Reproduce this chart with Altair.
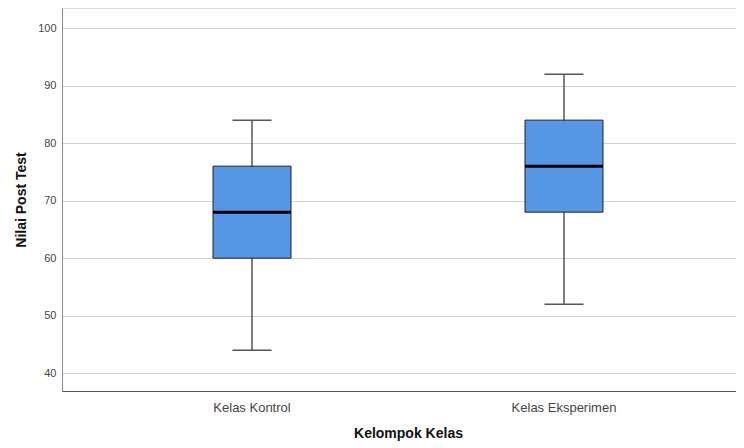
import altair as alt
import pandas as pd

groups = ["Kelas Kontrol", "Kelas Eksperimen"]
mins = [44, 52]
q1s = [60, 68]
medians = [68, 76]
q3s = [76, 84]
maxs = [84, 92]

df = pd.DataFrame({"group": groups, "min": mins, "q1": q1s, "median": medians,
                   "q3": q3s, "max": maxs})

FONT = "Liberation Sans"

x = alt.X("group:N", sort=groups, title="Kelompok Kelas",
          scale=alt.Scale(range=[0, 692], paddingInner=0.75, paddingOuter=0.484),
          axis=alt.Axis(labelAngle=0, ticks=False, domainColor="#555555",
                        labelColor="#444444", labelFontSize=13, labelFont=FONT,
                        labelPadding=10, titleFont=FONT, titleFontSize=14,
                        titleFontWeight="bold", titleColor="#111111", titlePadding=12,
                        grid=False))
yscale = alt.Scale(domain=[36.9, 103.5], nice=False, zero=False)
yaxis = alt.Axis(values=[40, 50, 60, 70, 80, 90, 100], ticks=False, domainColor="#888888",
                 gridColor="#d0d0d0", gridWidth=1, labelColor="#444444", labelFontSize=11,
                 labelFont=FONT, labelPadding=6, titleFont=FONT, titleFontSize=14,
                 titleFontWeight="bold", titleColor="#111111", titlePadding=9)

base = alt.Chart(df)

whisker = base.mark_rule(color="#555555", strokeWidth=1.5, opacity=1).encode(
    x=x, y=alt.Y("min:Q", scale=yscale, axis=yaxis, title="Nilai Post Test"), y2="max:Q")
box = base.mark_bar(color="#5596E5", stroke="#222222", strokeWidth=1, opacity=1).encode(
    x=x, y=alt.Y("q1:Q", scale=yscale), y2="q3:Q")
med = base.mark_tick(color="#000000", size=78, thickness=3, opacity=1).encode(
    x=x, y=alt.Y("median:Q", scale=yscale))
capmin = base.mark_tick(color="#555555", size=39, thickness=1.5, opacity=1).encode(
    x=x, y=alt.Y("min:Q", scale=yscale))
capmax = base.mark_tick(color="#555555", size=39, thickness=1.5, opacity=1).encode(
    x=x, y=alt.Y("max:Q", scale=yscale))

chart = alt.layer(whisker, box, med, capmin, capmax).properties(
    width=674, height=383,
    autosize=alt.AutoSizeParams(type="none"),
    padding={"left": 54, "top": 0, "right": 0, "bottom": 50},
).configure_view(stroke=None).configure(background="white")

chart.save("out.html", embed_options={"renderer": "svg", "actions": False})
